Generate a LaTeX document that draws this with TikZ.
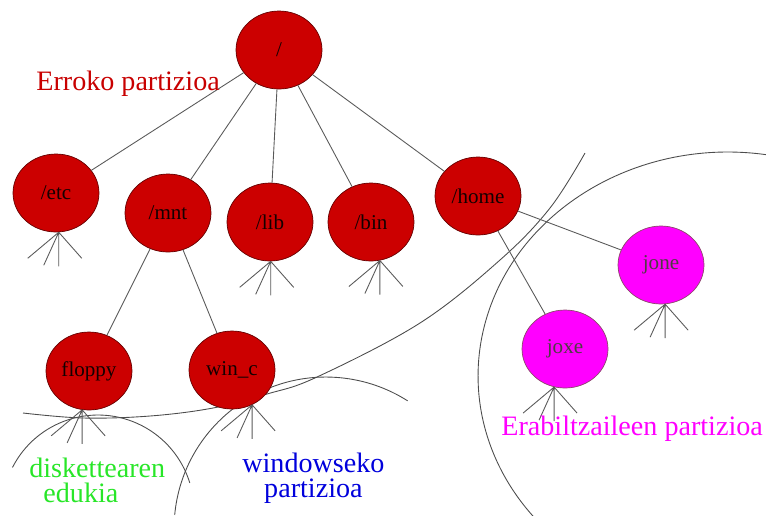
\documentclass[tikz,border=0pt]{standalone}
\usepackage{fontspec}
\setmainfont{Liberation Serif}
\usepackage{xcolor}
\usetikzlibrary{shapes.geometric}

\definecolor{dirred}{RGB}{204,0,0}
\definecolor{usermag}{RGB}{255,0,255}
\definecolor{rootred}{RGB}{200,0,0}
\definecolor{diskgreen}{RGB}{40,230,40}
\definecolor{winblue}{RGB}{0,0,220}

\tikzset{
  dirnode/.style={ellipse, draw=black!60!red, fill=dirred, minimum width=1.72cm,
    minimum height=1.56cm, inner sep=0pt, text=black!92!red, font=\fontsize{12}{14}\selectfont},
  usernode/.style={dirnode, draw=black!50!magenta, fill=usermag, text=black!80!magenta},
  branch/.style={draw=black!65, line width=0.5pt},
  part/.style={draw=black!70, line width=0.5pt},
  partlabel/.style={font=\fontsize{16}{14}\selectfont, inner sep=0pt}
}

\begin{document}
\begin{tikzpicture}[x=0.02cm,y=0.02cm]
            \useasboundingbox (0,0) rectangle (766,-515);
            % partition borders
            \draw [part] plot[smooth, tension=0.6] coordinates {(23,-413) (83,-418) (150,-416) (213,-408) (267,-394) (317,-377) (420,-323) (500,-260) (550,-208) (585,-153)};
            \draw [part] (98,-511) ++(153:1.92cm) arc[start angle=153, end angle=17, radius=1.92cm];
            \draw [part] (326,-529) ++(174.7:3.04cm) arc[start angle=174.7, end angle=57.5, radius=3.04cm];
            \draw [part] (728,-376) ++(80:5cm and 4.48cm) arc[start angle=80, end angle=222, x radius=5cm, y radius=4.48cm];
            % tree
            \node [dirnode] (root) at (279,-50) {/};
            \node [dirnode] (etc) at (56,-193) {/etc};
            \node [dirnode] (mnt) at (168,-213) {/mnt};
            \node [dirnode] (lib) at (270,-222) {/lib};
            \node [dirnode] (bin) at (371,-222) {/bin};
            \node [dirnode] (home) at (478,-196) {/home};
            \node [dirnode] (floppy) at (89,-371) {floppy};
            \node [dirnode] (winc) at (232,-370) {win\_c};
            \node [usernode] (joxe) at (565,-349) {joxe};
            \node [usernode] (jone) at (661,-265) {jone};
            \draw [branch](root)--(etc);
            \draw [branch](root)--(mnt);
            \draw [branch](root)--(lib);
            \draw [branch](root)--(bin);
            \draw [branch](root)--(home);
            \draw [branch](mnt)--(floppy);
            \draw [branch](mnt)--(winc);
            \draw [branch](home)--(joxe);
            \draw [branch](home)--(jone);
            \foreach \n/\a in {etc/-86, lib/-89, bin/-77, floppy/-100, winc/-60, joxe/-106, jone/-84}
              \draw [branch](\n.\a)--++(-31,-26) (\n.\a)--++(-15,-33) (\n.\a)--++(0,-34) (\n.\a)--++(23,-26);
            % labels
            \node [partlabel, text=rootred, anchor=base west] (rootlbl) at (36,-90) {Erroko partizioa};
            \node [partlabel, text=diskgreen, anchor=base west, align=left] (disklbl) at (29,-502) {diskettearen\\\hspace*{0.5em}edukia};
            \node [partlabel, text=winblue, anchor=base west, align=center] (winlbl) at (242,-497) {windowseko\\partizioa};
            \node [partlabel, text=usermag, anchor=base west] (userlbl) at (501,-435) {Erabiltzaileen partizioa};
            \end{tikzpicture}
\end{document}
